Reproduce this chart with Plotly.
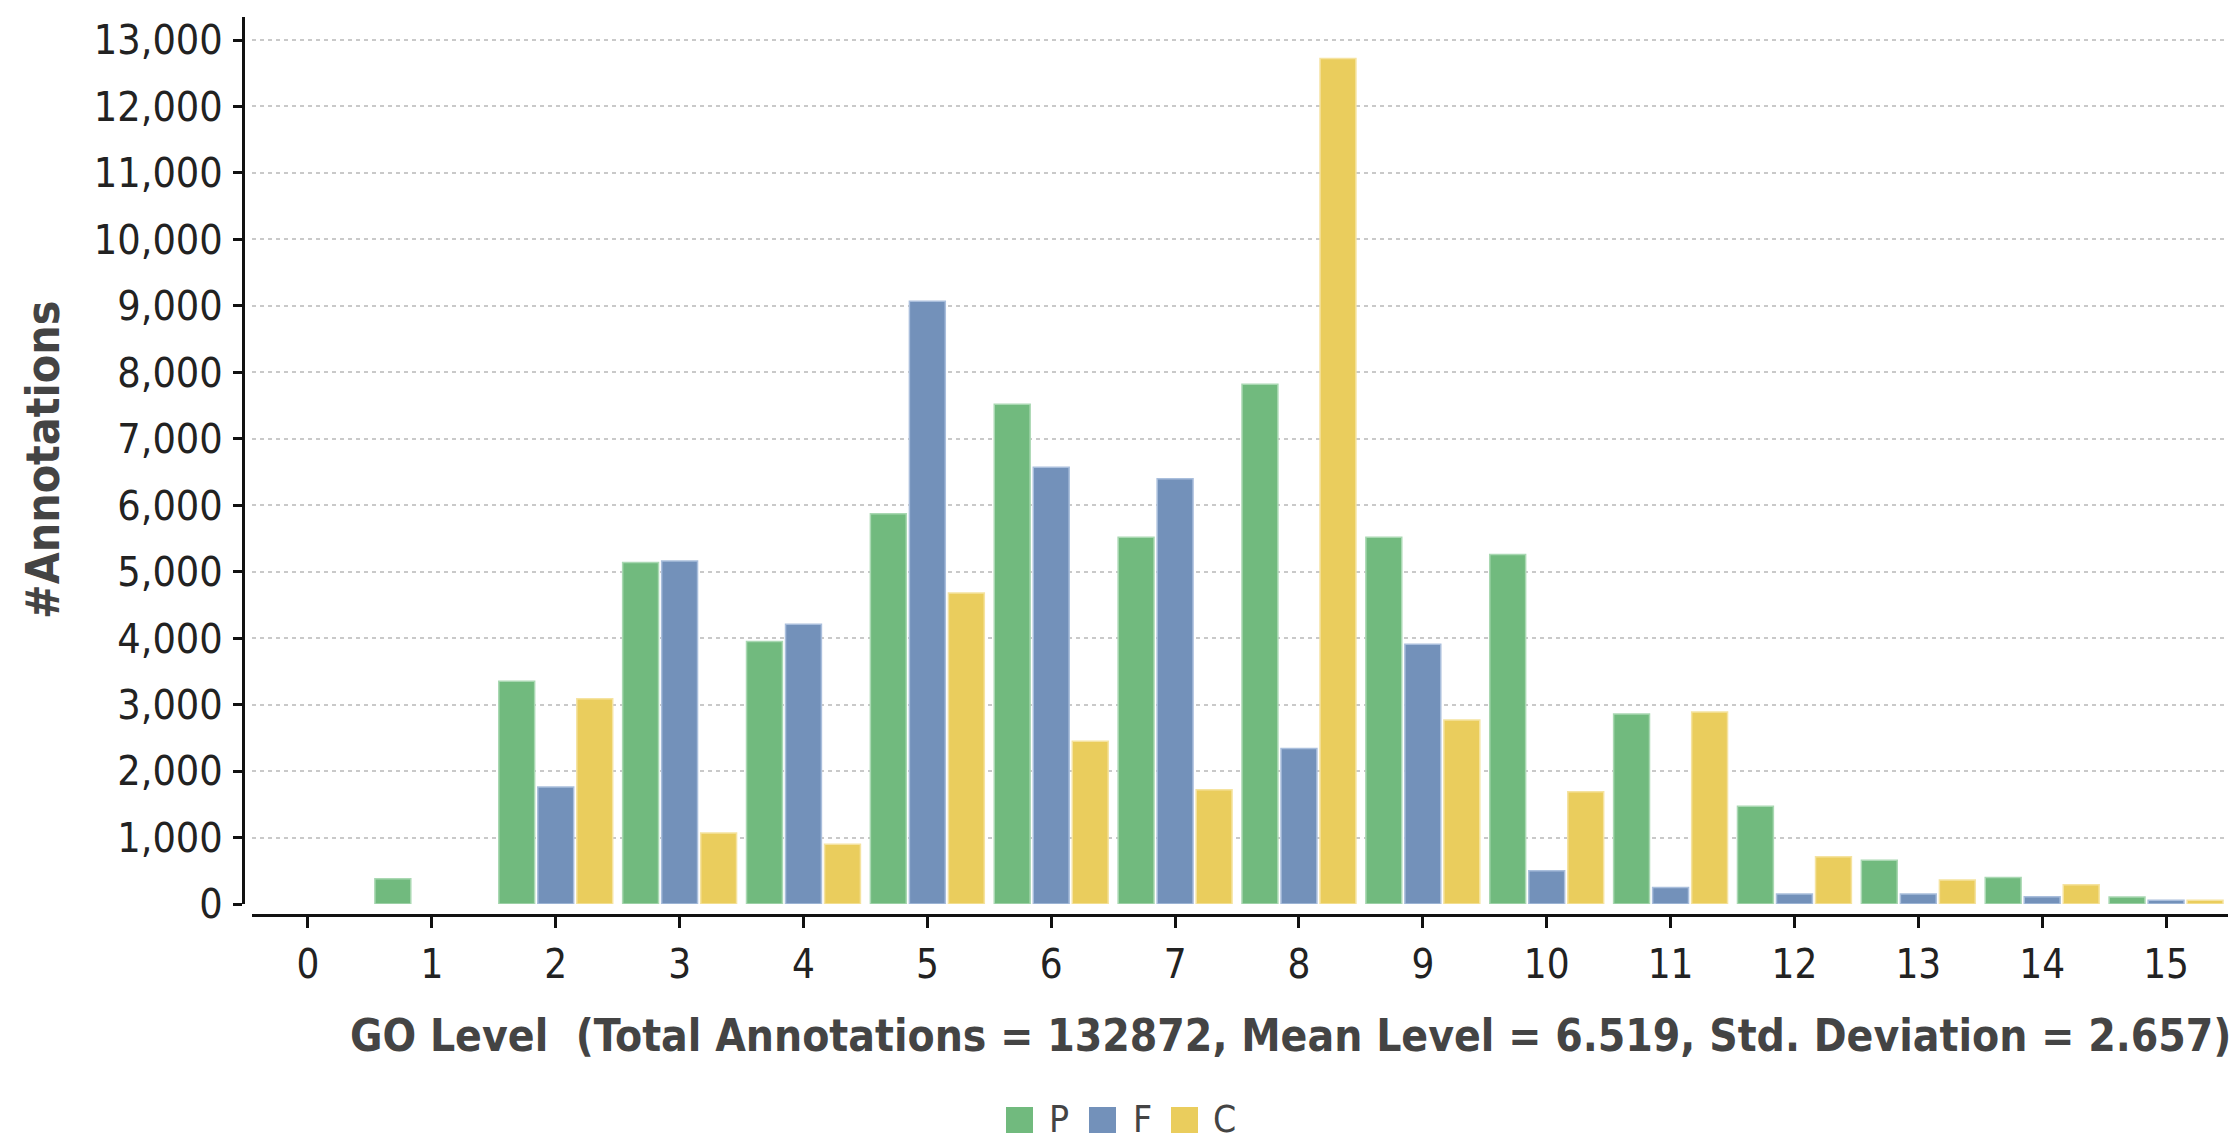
import plotly.graph_objects as go

levels = list(range(16))
series_names = ["P", "F", "C"]
P_values = [0, 380, 3350, 5140, 3950, 5870, 7520, 5520, 7820, 5520, 5260, 2860, 1470, 660, 400, 105]
F_values = [0, 0, 1760, 5160, 4210, 9070, 6570, 6400, 2340, 3910, 500, 250, 150, 150, 110, 55]
C_values = [0, 0, 3090, 1070, 900, 4680, 2450, 1720, 12720, 2770, 1690, 2890, 710, 360, 290, 55]
colors = ["#71BA7E", "#7391BA", "#EACD5D"]
edge_colors = ["#A9D8B2", "#A9BEDC", "#F5E3A0"]
y_ticks = list(range(0, 13001, 1000))
x_title = "GO Level\u00a0\u00a0(Total Annotations = 132872, Mean Level = 6.519, Std. Deviation = 2.657)"
y_title = "#Annotations"

W, H = 2239, 1143
ml, mr, mt, mb = 243, 11, 17, 30
pw = W - ml - mr
ph = H - mt - mb

def px_x(px):
    return (px - ml) / pw

def px_y(py):
    return (H - mb - py) / ph

FONT = "DejaVu Sans Condensed, DejaVu Sans, sans-serif"

fig = go.Figure()
for name, vals, col, ecol in zip(series_names, [P_values, F_values, C_values], colors, edge_colors):
    fig.add_trace(go.Bar(
        x=levels, y=vals, name=name,
        marker=dict(color=col, line=dict(color=ecol, width=[1.5 if v > 0 else 0 for v in vals])),
        showlegend=False,
    ))

fig.update_layout(
    width=W, height=H,
    margin=dict(l=ml, r=mr, t=mt, b=mb, autoexpand=False),
    paper_bgcolor="white", plot_bgcolor="white",
    barmode="group", bargap=0.055, bargroupgap=0.08,
    font=dict(family=FONT, size=41, color="#222222"),
    xaxis=dict(
        range=[-0.452, 15.5], domain=[px_x(252), 1],
        anchor="free", position=px_y(915),
        tickmode="array", tickvals=levels, ticktext=[str(v) for v in levels],
        showline=True, linecolor="#111111", linewidth=3,
        ticks="outside", ticklen=11, tickwidth=3, tickcolor="#111111",
        showgrid=False, zeroline=False,
        tickfont=dict(family=FONT, size=40, color="#222222"),
        ticklabelstandoff=2,
    ),
    yaxis=dict(
        range=[0, 13346], domain=[px_y(904), 1],
        anchor="free", position=0,
        tickmode="array", tickvals=y_ticks, ticktext=[f"{v:,}" for v in y_ticks],
        showline=True, linecolor="#111111", linewidth=3,
        ticks="outside", ticklen=9, tickwidth=3, tickcolor="#111111",
        showgrid=True, gridcolor="#C9C9C9", gridwidth=2, griddash="4px,4px",
        zeroline=False,
        tickfont=dict(family=FONT, size=41, color="#222222"),
        ticklabelstandoff=2,
    ),
)

# Axis titles
fig.add_annotation(
    x=px_x(1290), y=px_y(1035), xref="paper", yref="paper",
    text=x_title, showarrow=False, xanchor="center", yanchor="middle",
    font=dict(family=FONT, size=44, color="#444444", weight="bold"),
)
fig.add_annotation(
    x=px_x(43), y=px_y(460), xref="paper", yref="paper",
    text=y_title, showarrow=False, textangle=-90, xanchor="center", yanchor="middle",
    font=dict(family=FONT, size=46, color="#444444", weight="bold"),
)

# Custom legend (swatches + labels)
legend_items = [(1006, 1048), (1089, 1132), (1171, 1212)]
for (sx, tx), name, col in zip(legend_items, series_names, colors):
    fig.add_shape(
        type="rect", xref="paper", yref="paper",
        x0=px_x(sx), x1=px_x(sx + 27), y0=px_y(1133), y1=px_y(1107),
        fillcolor=col, line=dict(width=0),
    )
    fig.add_annotation(
        x=px_x(tx), y=px_y(1119), xref="paper", yref="paper",
        text=name, showarrow=False, xanchor="left", yanchor="middle",
        font=dict(family=FONT, size=37, color="#444444"),
        borderpad=0,
    )

fig.write_html(
    "out.html",
    config={"displayModeBar": False},
    post_script="document.body.style.margin='0';document.body.style.overflow='hidden';",
)
